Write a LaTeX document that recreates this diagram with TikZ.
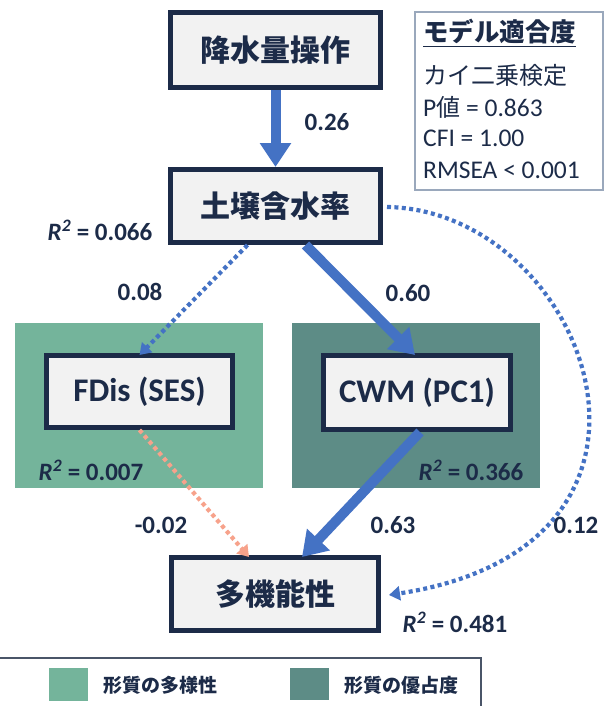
\documentclass[tikz,border=0pt]{standalone}
\usepackage{fontspec}
\setmainfont{Carlito}
\newfontfamily\jp{Noto Sans CJK JP}
\usetikzlibrary{arrows.meta}
\definecolor{navy}{HTML}{1C2B48}
\definecolor{boxfill}{HTML}{F2F2F2}
\definecolor{pathblue}{HTML}{4472C4}
\definecolor{salmon}{HTML}{F7A28B}
\definecolor{divgreen}{HTML}{74B49B}
\definecolor{domteal}{HTML}{5D8C86}
\definecolor{fitborder}{HTML}{9AA8BC}
\definecolor{legborder}{HTML}{4A5568}
\begin{document}
\begin{tikzpicture}[x=1pt,y=-1pt,
  varbox/.style={draw=navy, line width=5pt, fill=boxfill, text=navy, inner sep=0pt},
  jpvar/.style={varbox, font=\jp\bfseries\fontsize{30}{36}\selectfont},
  envar/.style={varbox, font=\bfseries\fontsize{33}{40}\selectfont},
  strongpath/.style={draw=pathblue, line width=10pt, -{Triangle[width=30pt,length=24pt]}},
  weakpath/.style={draw=pathblue, line width=4.2pt, dash pattern=on 4pt off 3.4pt, -{Triangle[width=14pt,length=11pt]}},
  negpath/.style={weakpath, draw=salmon},
  lbl/.style={text=navy, inner sep=0pt, font=\bfseries\fontsize{25}{30}\selectfont},
  fittxt/.style={text=navy, inner sep=0pt, anchor=west, font=\fontsize{25.5}{30}\selectfont},
  legtxt/.style={text=navy, inner sep=0pt, anchor=west, font=\jp\bfseries\fontsize{19}{23}\selectfont}
]
\useasboundingbox (0,0) rectangle (608,706);
% group backgrounds
\fill[divgreen] (15,323) rectangle (263,488);
\fill[domteal] (292,323) rectangle (540,488);
% variable boxes
\node[jpvar, minimum width=210pt, minimum height=75pt] (rain) at (275.5,50) {降水量操作};
\node[jpvar, minimum width=210pt, minimum height=73pt] (soil) at (275.5,206) {土壌含水率};
\node[envar, minimum width=186pt, minimum height=72pt] (fdis) at (139.5,391.5) {FDis (SES)};
\node[envar, minimum width=187pt, minimum height=74pt] (cwm) at (417,392.5) {CWM (PC1)};
\node[jpvar, minimum width=207pt, minimum height=73pt] (multi) at (275,594) {多機能性};
% paths
\draw[strongpath] (rain.south) -- (soil.north);
\draw[strongpath] ([xshift=30pt]soil.south) -- ([xshift=-2pt,yshift=-2pt]cwm.north);
\draw[strongpath] ([xshift=3pt]cwm.south) -- ([xshift=27pt,yshift=-2pt]multi.north);
\draw[weakpath] ([xshift=-28pt]soil.south) -- ([yshift=-2pt]fdis.north);
\draw[negpath] (fdis.south) -- ([xshift=-26pt,yshift=-2pt]multi.north);
\draw[weakpath] ([xshift=4pt,yshift=-1pt]soil.east) .. controls (585,210) and (715,545) .. ([xshift=8pt,yshift=-1pt]multi.east);
% coefficients
\node[lbl] (c1) at (327,122) {0.26};
\node[lbl] (r1) at (100,230) {\textit{R}\textsuperscript{\textit{2}} = 0.066};
\node[lbl] (c2) at (140,292) {0.08};
\node[lbl] (c3) at (408,293) {0.60};
\node[lbl] (r2) at (91,470) {\textit{R}\textsuperscript{\textit{2}} = 0.007};
\node[lbl] (r3) at (471,470) {\textit{R}\textsuperscript{\textit{2}} = 0.366};
\node[lbl] (c4) at (161,525) {-0.02};
\node[lbl] (c5) at (393,525) {0.63};
\node[lbl] (c6) at (576,525) {0.12};
\node[lbl] (r4) at (455,622) {\textit{R}\textsuperscript{\textit{2}} = 0.481};
% fit box
\draw[fitborder, line width=1.5pt] (415,12) rectangle (603,190);
\node[fittxt] (fit0) at (423,33) {\jp\bfseries\fontsize{25.5}{30}\selectfont\underline{モデル適合度}};
\node[fittxt] (fit1) at (423,75) {\jp\fontsize{24}{30}\selectfont カイ二乗検定};
\node[fittxt] (fit2) at (423,107) {P{\jp\fontsize{24}{30}\selectfont 値} = 0.863};
\node[fittxt] (fit3) at (423,138) {CFI = 1.00};
\node[fittxt] (fit4) at (423,170) {RMSEA < 0.001};
% legend
\draw[legborder, line width=1.5pt] (-2,658) rectangle (481,712);
\fill[divgreen] (49,668) rectangle (88,701);
\fill[domteal] (290,668) rectangle (329,700);
\node[legtxt] (leg1) at (103,685) {形質の多様性};
\node[legtxt] (leg2) at (344,685) {形質の優占度};
\end{tikzpicture}
\end{document}
